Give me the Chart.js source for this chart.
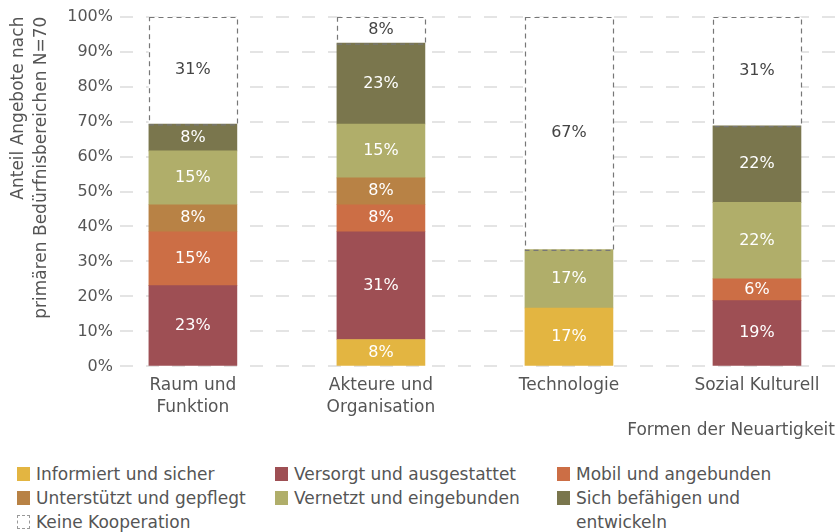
<!DOCTYPE html>
<html>
<head>
    <title>Formen der Neuartigkeit</title>
    <script src="https://cdn.jsdelivr.net/npm/chart.js"></script>
    <style>
        body {
            margin: 0;
            padding: 0;
            background: #fff;
            font-family: "DejaVu Sans", sans-serif;
            color: #555;
        }

        .wrap {
            position: relative;
            width: 835px;
            height: 532px;
        }

        .legend-item {
            position: absolute;
            font-size: 17px;
            line-height: 24px;
            padding-left: 19px;
            max-width: 240px;
        }

        .legend-item .box {
            position: absolute;
            left: 0;
            top: 5px;
            width: 13px;
            height: 14px;
        }
    </style>
</head>
<body>
    <div class="wrap">
        <canvas id="chart" width="835" height="445"></canvas>
        <div id="legend"></div>
    </div>

    <script>
        // Kategorien (x-Achse)
        const categories = [['Raum und', 'Funktion'], ['Akteure und', 'Organisation'], ['Technologie'], ['Sozial Kulturell']];

        // Anteile in % je Kategorie
        const informiert = [0, 7.7, 16.7, 0];
        const versorgt = [23.1, 30.8, 0, 18.8];
        const mobil = [15.4, 7.7, 0, 6.2];
        const unterstuetzt = [7.7, 7.7, 0, 0];
        const vernetzt = [15.4, 15.4, 16.7, 21.9];
        const befaehigen = [7.7, 23.1, 0, 21.9];
        const keine = [30.7, 7.6, 66.6, 31.2];

        const seriesNames = ['Informiert und sicher', 'Versorgt und ausgestattet', 'Mobil und angebunden',
            'Unterstützt und gepflegt', 'Vernetzt und eingebunden', 'Sich befähigen und entwickeln', 'Keine Kooperation'];
        const seriesValues = [informiert, versorgt, mobil, unterstuetzt, vernetzt, befaehigen, keine];
        const seriesColors = ['#E3B541', '#9E4F54', '#CC6E45', '#B88245', '#B0AE6A', '#7A764D', '#FFFFFF'];

        const FONT = 'DejaVu Sans';

        // zero values -> null so no hairline bar is drawn
        const datasets = seriesNames.map((name, i) => ({
            label: name,
            data: seriesValues[i].map((v, j) => ({ x: j, y: v || null })),
            backgroundColor: seriesColors[i],
            borderWidth: 0,
            barThickness: 88,
            dashed: i === 6
        }));

        // labels inside bars + dashed outline for "Keine Kooperation"
        const barLabels = {
            id: 'barLabels',
            afterDatasetsDraw(chart) {
                const ctx = chart.ctx;
                chart.data.datasets.forEach((ds, di) => {
                    const meta = chart.getDatasetMeta(di);
                    meta.data.forEach((bar, i) => {
                        const v = ds.data[i].y;
                        if (!v) return;
                        const p = bar.getProps(['x', 'y', 'base', 'width'], true);
                        ctx.save();
                        if (ds.dashed) {
                            ctx.strokeStyle = '#777';
                            ctx.lineWidth = 1.2;
                            ctx.setLineDash([5, 4]);
                            ctx.strokeRect(Math.round(p.x - p.width / 2) + 0.5, Math.round(p.y) + 0.5, p.width, p.base - p.y);
                        }
                        ctx.setLineDash([]);
                        ctx.fillStyle = ds.dashed ? '#444' : '#fff';
                        ctx.font = '16px "' + FONT + '", sans-serif';
                        ctx.textAlign = 'center';
                        ctx.textBaseline = 'middle';
                        ctx.fillText(Math.round(v) + '%', p.x, (p.y + p.base) / 2);
                        ctx.restore();
                    });
                });
            }
        };

        new Chart(document.getElementById('chart'), {
            type: 'bar',
            data: { datasets: datasets },
            plugins: [barLabels],
            options: {
                responsive: false,
                devicePixelRatio: 1,
                animation: false,
                layout: { padding: { top: 8, left: 8, right: 0, bottom: 0 } },
                plugins: {
                    legend: { display: false },
                    tooltip: { enabled: false }
                },
                scales: {
                    x: {
                        type: 'linear',
                        stacked: true,
                        offset: false,
                        min: -0.388,
                        max: 3.415,
                        afterBuildTicks: s => { s.ticks = categories.map((c, i) => ({ value: i })); },
                        ticks: {
                            callback: v => categories[v],
                            color: '#555',
                            font: { family: FONT, size: 17, lineHeight: 1.3 },
                            maxRotation: 0,
                            autoSkip: false,
                            padding: 8
                        },
                        grid: { display: false, offset: false, drawTicks: false },
                        border: { display: false },
                        title: {
                            display: true,
                            text: 'Formen der Neuartigkeit',
                            align: 'end',
                            color: '#555',
                            font: { family: FONT, size: 17 },
                            padding: { top: -6, bottom: 4 }
                        }
                    },
                    y: {
                        stacked: true,
                        min: 0,
                        max: 100,
                        ticks: {
                            stepSize: 10,
                            callback: v => v + '%',
                            color: '#555',
                            font: { family: FONT, size: 16 },
                            padding: 7
                        },
                        grid: { color: '#e4e4e4', lineWidth: 2, drawTicks: false },
                        border: { display: false, dash: [13, 13] },
                        title: {
                            display: true,
                            text: ['Anteil Angebote nach', 'primären Bedürfnisbereichen N=70'],
                            align: 'end',
                            color: '#555',
                            font: { family: FONT, size: 17, lineHeight: 1.3 },
                            padding: { top: 0, bottom: 8 }
                        }
                    }
                }
            }
        });

        // legend (three columns, row-major like the original)
        const legendCols = [17, 275, 557];
        const legendTop = 462;
        const legend = document.getElementById('legend');
        seriesNames.forEach((name, i) => {
            const item = document.createElement('div');
            item.className = 'legend-item';
            item.style.left = legendCols[i % 3] + 'px';
            item.style.top = (legendTop + Math.floor(i / 3) * 24) + 'px';
            const box = document.createElement('span');
            box.className = 'box';
            if (i === 6) {
                box.style.border = '1px dashed #999';
                box.style.boxSizing = 'border-box';
            } else {
                box.style.background = seriesColors[i];
            }
            item.appendChild(box);
            item.appendChild(document.createTextNode(name));
            legend.appendChild(item);
        });
    </script>
</body>
</html>
